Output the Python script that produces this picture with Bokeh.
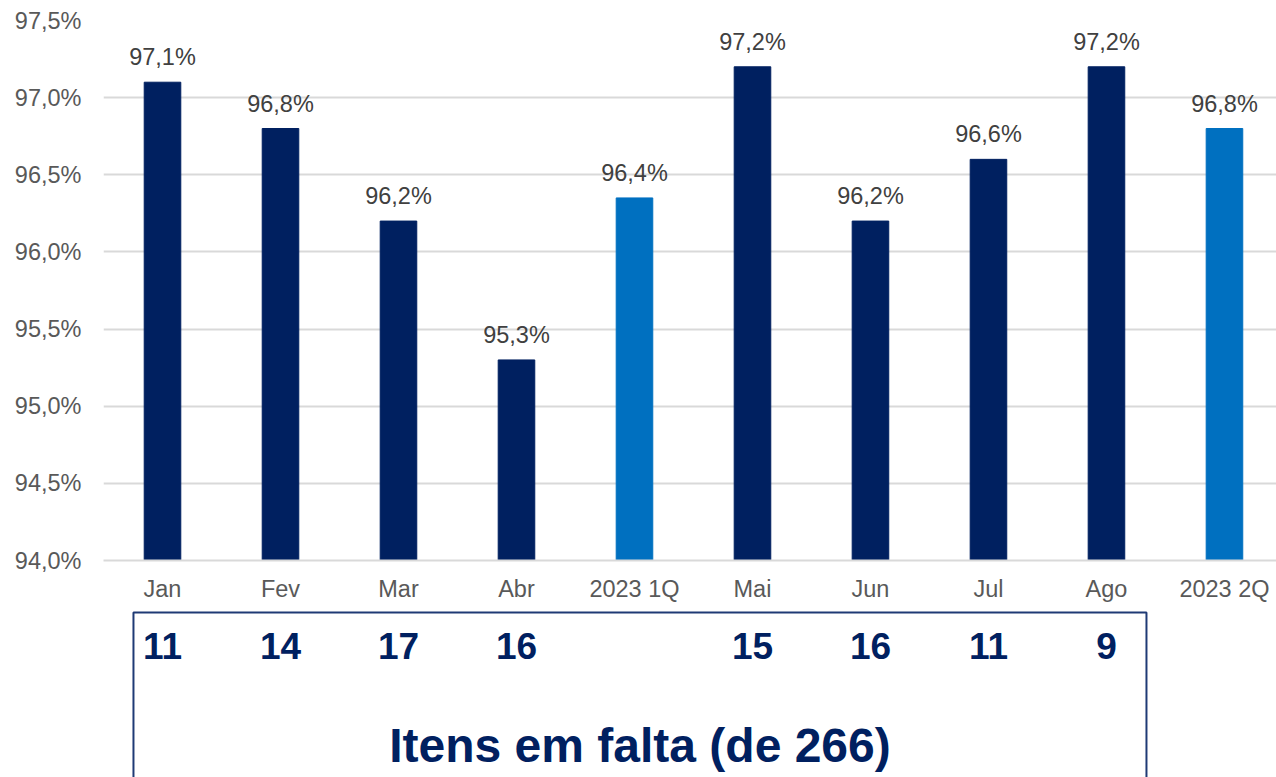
from bokeh.plotting import figure
from bokeh.layouts import column
from bokeh.models import Range1d, FixedTicker, CustomJSTickFormatter, ColumnDataSource
from bokeh.core.properties import value
from bokeh.embed import file_html
from bokeh.resources import INLINE

categories = ["Jan", "Fev", "Mar", "Abr", "2023 1Q", "Mai", "Jun", "Jul", "Ago", "2023 2Q"]
values = [97.1, 96.8, 96.2, 95.3, 96.35, 97.2, 96.2, 96.6, 97.2, 96.8]
value_labels = ["97,1%", "96,8%", "96,2%", "95,3%", "96,4%", "97,2%", "96,2%", "96,6%", "97,2%", "96,8%"]
is_quarter = [False, False, False, False, True, False, False, False, False, True]
missing_items = {"Jan": 11, "Fev": 14, "Mar": 17, "Abr": 16, "Mai": 15, "Jun": 16, "Jul": 11, "Ago": 9}
y_ticks = [94.0, 94.5, 95.0, 95.5, 96.0, 96.5, 97.0, 97.5]
box_title = "Itens em falta (de 266)"

NAVY = "#002060"
BLUE = "#0070C0"
FONT = "Liberation Sans"

xs = list(range(len(categories)))
colors = [BLUE if q else NAVY for q in is_quarter]
src = ColumnDataSource(dict(x=xs, top=values, color=colors, label=value_labels))

x_range = Range1d(-0.5, 9.441)

p = figure(width=1276, height=610, x_range=x_range, y_range=Range1d(94.0, 97.5),
           output_backend="svg", toolbar_location=None,
           min_border_left=103, min_border_right=0, min_border_top=20, min_border_bottom=50)
p.outline_line_color = None
p.background_fill_color = "white"

p.vbar(x="x", top="top", bottom=94.0, width=0.31, color="color", source=src)
p.text(x="x", y="top", text="label", source=src, text_align="center", text_baseline="alphabetic",
       y_offset=-25, text_font=value(FONT), text_font_size="23.5px", text_color="#404040")

p.xgrid.visible = False
p.ygrid.ticker = FixedTicker(ticks=y_ticks)
p.ygrid.grid_line_color = "#d9d9d9"
p.ygrid.grid_line_width = 2

p.yaxis.ticker = FixedTicker(ticks=y_ticks)
p.yaxis.formatter = CustomJSTickFormatter(code="return tick.toFixed(1).replace('.', ',') + '%';")
p.yaxis.axis_line_color = None
p.yaxis.major_tick_line_color = None
p.yaxis.minor_tick_line_color = None
p.yaxis.major_label_text_font = FONT
p.yaxis.major_label_text_font_size = "23.5px"
p.yaxis.major_label_text_color = "#595959"
p.yaxis.major_label_standoff = 16

p.xaxis.ticker = FixedTicker(ticks=xs)
p.xaxis.major_label_overrides = {i: c for i, c in enumerate(categories)}
p.xaxis.axis_line_color = "#d9d9d9"
p.xaxis.axis_line_width = 2
p.xaxis.major_tick_line_color = None
p.xaxis.minor_tick_line_color = None
p.xaxis.major_label_text_font = FONT
p.xaxis.major_label_text_font_size = "23.5px"
p.xaxis.major_label_text_color = "#595959"
p.xaxis.major_label_standoff = 9

# lower panel with missing items box
p2 = figure(width=1276, height=167, x_range=x_range, y_range=Range1d(0, 167),
            output_backend="svg", toolbar_location=None, x_axis_type=None, y_axis_type=None,
            min_border_left=103, min_border_right=0, min_border_top=0, min_border_bottom=0)
p2.outline_line_color = None
p2.xgrid.visible = False
p2.ygrid.visible = False

box_left, box_right = -0.246, 8.339
p2.quad(left=[box_left], right=[box_right], top=[165], bottom=[-30],
        fill_color=None, line_color="#1F3A75", line_width=2)

mx = [categories.index(k) for k in missing_items]
mv = [str(v) for v in missing_items.values()]
p2.text(x=mx, y=[132] * len(mx), text=mv, text_align="center", text_baseline="middle",
        text_font=value(FONT), text_font_style="bold", text_font_size="37px", text_color=NAVY)
p2.text(x=[(box_left + box_right) / 2], y=[32], text=[box_title], text_align="center",
        text_baseline="middle", text_font=value(FONT), text_font_style="bold",
        text_font_size="48px", text_color=NAVY)

layout = column(p, p2, spacing=0)
open("out.html", "w").write(file_html(layout, INLINE))
